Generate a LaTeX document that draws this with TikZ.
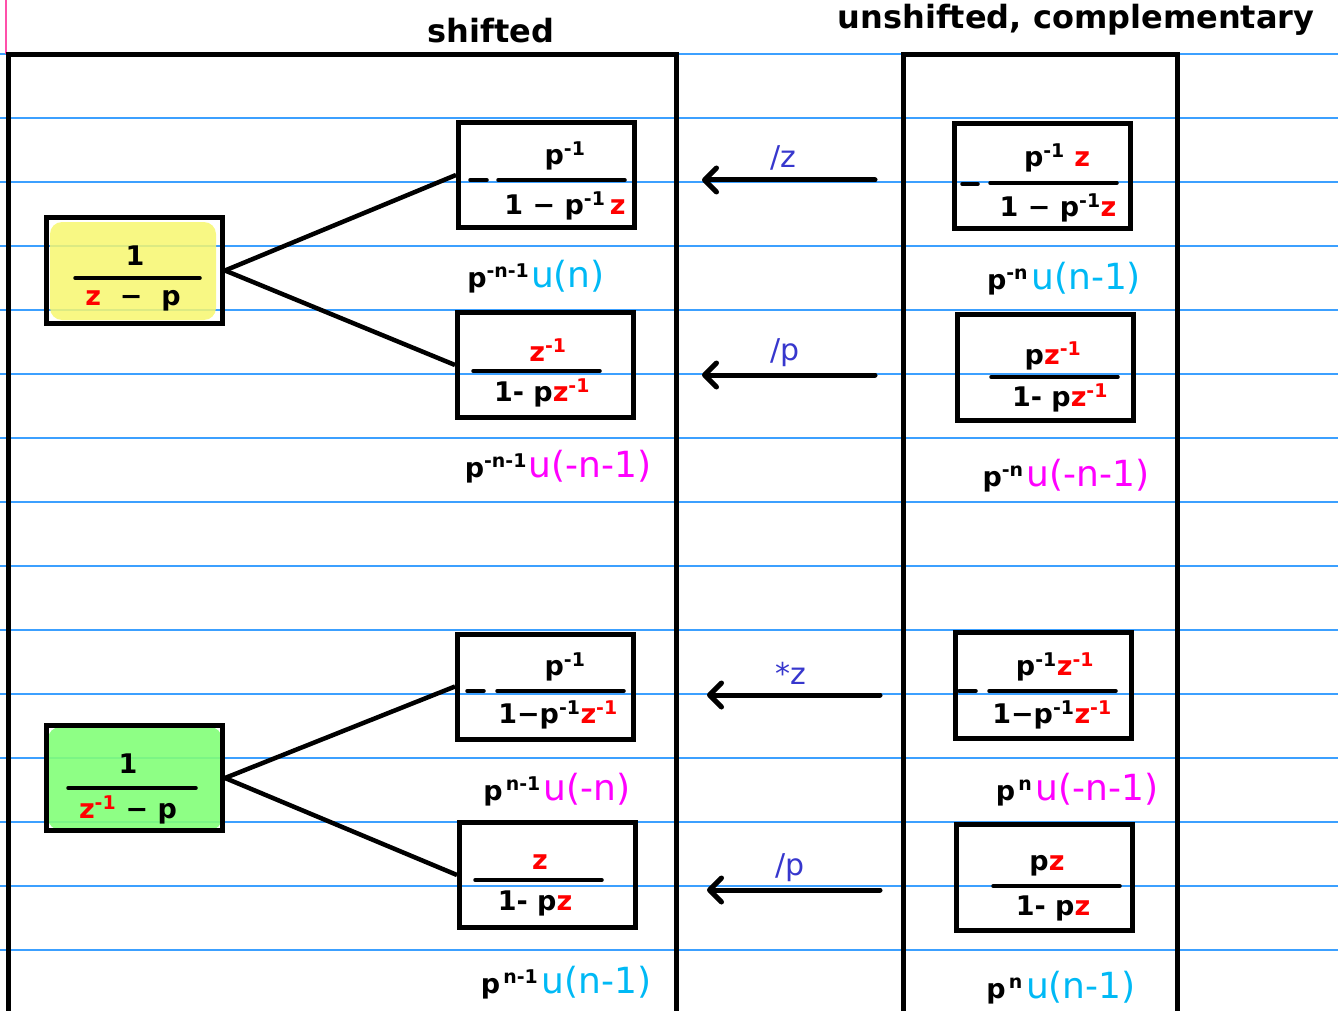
\documentclass[tikz,border=0pt]{standalone}
\usepackage{fontspec}
\setmainfont{DejaVu Sans}
\usetikzlibrary{arrows.meta}
\definecolor{rule}{RGB}{60,160,255}
\definecolor{margin}{RGB}{255,80,170}
\definecolor{zred}{RGB}{255,0,0}
\definecolor{ucyan}{RGB}{0,185,245}
\definecolor{umag}{RGB}{255,0,255}
\definecolor{opblue}{RGB}{55,55,205}
\definecolor{hlyellow}{RGB}{247,247,110}
\definecolor{hlgreen}{RGB}{130,255,120}
\newcommand{\hw}{\fontsize{27}{30}\selectfont\bfseries}
\newcommand{\lb}{\fontsize{36}{40}\selectfont}
\newcommand{\ttl}{\fontsize{32}{36}\selectfont\bfseries}
\newcommand{\opf}{\fontsize{30}{34}\selectfont}
\newcommand{\sps}[1]{\textsuperscript{#1}}
\newcommand{\rz}{\textcolor{zred}{z}}
\newcommand{\rzi}{\textcolor{zred}{z\sps{-1}}}
\tikzset{
  box/.style={draw, line width=5pt, rectangle, minimum width=176pt, minimum height=105pt, inner sep=0pt},
  hwt/.style={font=\hw, inner sep=0pt},
  lbl/.style={inner sep=0pt, anchor=base},
  barline/.style={line width=3.5pt, line cap=round},
  conn/.style={line width=4.5pt},
  oparrow/.style={line width=5pt, line cap=round, -{Straight Barb[length=12pt,width=24pt,line width=5pt,round]}},
  oplbl/.style={font=\opf, text=opblue, inner sep=0pt},
  bigbox/.style={line width=5pt},
  ruleline/.style={rule, line width=1.2pt}
}
\begin{document}
\begin{tikzpicture}[x=1pt,y=-1pt]
\useasboundingbox (0,0) rectangle (1338,1011);
% ruled paper
\foreach \yy in {54,118,182,246,310,374,438,502,566,630,694,758,822,886,950}
  \draw[ruleline] (0,\yy) -- (1338,\yy);
\draw[margin, line width=1.5pt] (6,0) -- (6,54);
% big frames
\draw[bigbox] (8,1015) -- (8,55) -- (676,55) -- (676,1015);
\draw[bigbox] (903,1015) -- (903,55) -- (1177,55) -- (1177,1015);
\node[font=\ttl, inner sep=0pt] (tshift) at (491,31) {shifted};
\node[font=\ttl, inner sep=0pt] (tunshift) at (1076,20) {unshifted, complementary};
% highlights
\fill[hlyellow, opacity=0.85, rounded corners=12pt] (50,222) rectangle (216,320);
\fill[hlgreen, opacity=0.9, rounded corners=12pt] (48,727) rectangle (222,830);
% boxes
\node[box, minimum height=106pt] (Y) at (134.5,270.5) {};
\node[box] (G) at (134.5,778) {};
\node[box] (A1) at (546.5,175) {};
\node[box] (A2) at (545.5,365) {};
\node[box] (A3) at (545.5,686.5) {};
\node[box] (A4) at (547.5,875) {};
\node[box] (B1) at (1042.5,176) {};
\node[box, minimum height=106pt] (B2) at (1045.5,367.5) {};
\node[box, minimum height=106pt] (B3) at (1043,685.5) {};
\node[box, minimum height=106pt] (B4) at (1044.5,877.5) {};
% connectors
\draw[conn] (Y.east) -- (A1.west);
\draw[conn] (Y.east) -- (A2.west);
\draw[conn] (G.east) -- (A3.west);
\draw[conn] (G.east) -- (A4.west);
% arrows
\coordinate (r1) at (875,180); \coordinate (l1) at (702,180);
\coordinate (r2) at (875,375); \coordinate (l2) at (702,375);
\coordinate (r3) at (880,695); \coordinate (l3) at (707,695);
\coordinate (r4) at (880,890); \coordinate (l4) at (707,890);
\draw[oparrow] (r1) -- (l1);
\draw[oparrow] (r2) -- (l2);
\draw[oparrow] (r3) -- (l3);
\draw[oparrow] (r4) -- (l4);
\node[oplbl] (o1) at (783,158) {/z};
\node[oplbl] (o2) at (785,353) {/p};
\node[oplbl] (o3) at (791,673) {*z};
\node[oplbl] (o4) at (790,868) {/p};
% Y fraction
\node[hwt] (Yn) at (135,256) {1};
\draw[barline] (75,278) -- (200,278);
\node[hwt] (Yd) at (133,301) {\rz\ \ −\ \ p};
% G fraction
\node[hwt] (Gn) at (128,764) {1};
\draw[barline] (68,788) -- (196,788);
\node[hwt] (Gd) at (128,810) {\rzi\ −\ p};
% A1
\draw[barline] (470,180) -- (487,180);
\draw[barline] (498,180) -- (625,180);
\node[hwt] (A1n) at (565,156) {p\sps{-1}};
\node[hwt] (A1d) at (565,206) {1 − p\sps{-1}\,\rz};
% A2
\draw[barline] (473,371) -- (600,371);
\node[hwt] (A2n) at (548,350) {\rzi};
\node[hwt] (A2d) at (542,393) {1- p\rzi};
% A3
\draw[barline] (467,691) -- (484,691);
\draw[barline] (497,691) -- (624,691);
\node[hwt] (A3n) at (565,667) {p\sps{-1}};
\node[hwt] (A3d) at (558,715) {1−p\sps{-1}\rzi};
% A4
\draw[barline] (475,880) -- (602,880);
\node[hwt] (A4n) at (540,862) {\rz};
\node[hwt] (A4d) at (535,903) {1- p\rz};
% B1
\draw[barline] (962,184) -- (978,184);
\draw[barline] (990,183) -- (1117,183);
\node[hwt] (B1n) at (1057,158) {p\sps{-1}\ \rz};
\node[hwt] (B1d) at (1058,208) {1 − p\sps{-1}\rz};
% B2
\draw[barline] (991,377) -- (1118,377);
\node[hwt] (B2n) at (1053,356) {p\rzi};
\node[hwt] (B2d) at (1060,398) {1- p\rzi};
% B3
\draw[barline] (959,691) -- (976,691);
\draw[barline] (989,691) -- (1116,691);
\node[hwt] (B3n) at (1055,667) {p\sps{-1}\rzi};
\node[hwt] (B3d) at (1052,715) {1−p\sps{-1}\rzi};
% B4
\draw[barline] (993,886) -- (1120,886);
\node[hwt] (B4n) at (1047,866) {p\rz};
\node[hwt] (B4d) at (1053,908) {1- p\rz};
% sequence labels
\node[lbl] (L1) at (536,287) {{\hw p\sps{-n-1}}\,{\lb\color{ucyan}u(n)}};
\node[lbl] (L2) at (558,477) {{\hw p\sps{-n-1}}\,{\lb\color{umag}u(-n-1)}};
\node[lbl] (L3) at (1064,289) {{\hw p\sps{-n}}\ {\lb\color{ucyan}u(n-1)}};
\node[lbl] (L4) at (1066,486) {{\hw p\sps{-n}}\ {\lb\color{umag}u(-n-1)}};
\node[lbl] (L5) at (557,800) {{\hw p\sps{\,n-1}}\ {\lb\color{umag}u(-n)}};
\node[lbl] (L6) at (1077,800) {{\hw p\sps{\,n}}\ {\lb\color{umag}u(-n-1)}};
\node[lbl] (L7) at (566,993) {{\hw p\sps{\,n-1}}\ {\lb\color{ucyan}u(n-1)}};
\node[lbl] (L8) at (1061,998) {{\hw p\sps{\,n}}\ {\lb\color{ucyan}u(n-1)}};
\end{tikzpicture}
\end{document}
